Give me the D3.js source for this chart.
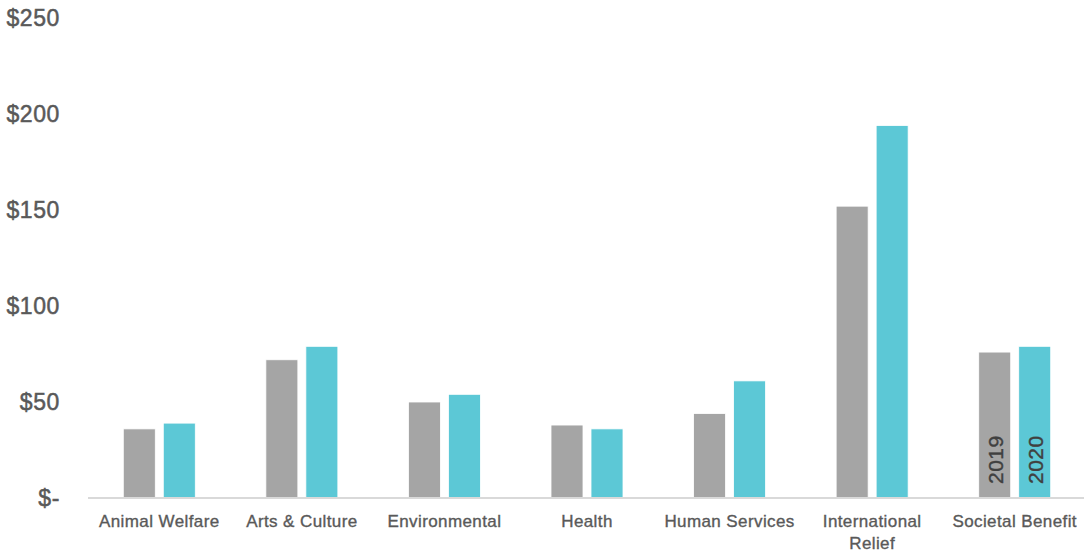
<!DOCTYPE html>
<html>
<head>
<meta charset="utf-8">
<script src="https://cdn.jsdelivr.net/npm/d3@7"></script>
<style>
  html, body { margin: 0; padding: 0; background: #fff; }
  svg { display: block; }
  text { font-family: "Liberation Sans", Arial, sans-serif; }
</style>
</head>
<body>
<svg id="chart" width="1084" height="553"></svg>
<script>
// Giving by cause, in dollars
const categories = ["Animal Welfare", "Arts & Culture", "Environmental", "Health",
                    "Human Services", "International Relief", "Societal Benefit"];
const years = ["2019", "2020"];
const values2019 = [36, 72, 50, 38, 44, 152, 76];
const values2020 = [39, 79, 54, 36, 61, 194, 79];
const yTicks = [0, 50, 100, 150, 200, 250];

const seriesValues = { "2019": values2019, "2020": values2020 };
const colors = { "2019": "#a5a5a5", "2020": "#5cc8d6" };

const svg = d3.select("#chart");
const W = 1084, H = 553;
const margin = { left: 88, right: -2, top: 18, bottom: 55 };

const x0 = d3.scaleBand().domain(categories).range([margin.left, W - margin.right]).padding(0);
const groupWidth = 72;
const x1 = d3.scaleBand().domain(years).range([0, groupWidth]).paddingInner(0.2).paddingOuter(0);
const y = d3.scaleLinear().domain([0, 250]).range([H - margin.bottom, margin.top]);

// Bars
const groups = svg.append("g").selectAll("g")
  .data(categories)
  .join("g")
  .attr("transform", c => `translate(${x0(c) + (x0.bandwidth() - groupWidth) / 2},0)`);

groups.selectAll("rect")
  .data((c, i) => years.map(yr => ({ yr, v: seriesValues[yr][i], cat: c })))
  .join("rect")
  .attr("x", d => x1(d.yr))
  .attr("width", x1.bandwidth())
  .attr("y", d => y(d.v))
  .attr("height", d => y(0) - y(d.v))
  .attr("fill", d => colors[d.yr])
  .attr("stroke", "#ffffff")
  .attr("stroke-width", 0.8);

// Series labels written inside the last category's bars
const last = categories[categories.length - 1];
svg.append("g")
  .attr("transform", `translate(${x0(last) + (x0.bandwidth() - groupWidth) / 2},0)`)
  .selectAll("text")
  .data(years)
  .join("text")
  .attr("transform", yr => `translate(${x1(yr) + x1.bandwidth() / 2 + 8},${y(0) - 14}) rotate(-90)`)
  .attr("text-anchor", "start")
  .attr("font-size", 21)
  .attr("letter-spacing", 0.5)
  .attr("fill", "#404040")
  .attr("stroke", "#404040")
  .attr("stroke-width", 0.4)
  .text(yr => yr);

// Y axis labels
const yAxis = d3.axisLeft(y)
  .tickValues(yTicks)
  .tickSize(0)
  .tickPadding(0)
  .tickFormat(v => v === 0 ? "$-" : "$" + v);

svg.append("g")
  .attr("transform", `translate(60,0)`)
  .call(yAxis)
  .call(g => g.select(".domain").remove())
  .call(g => g.selectAll("text")
    .attr("font-size", 23)
    .attr("letter-spacing", 0.6)
    .attr("font-family", "'Liberation Sans', Arial, sans-serif")
    .attr("fill", "#595959")
    .attr("stroke", "#595959")
    .attr("stroke-width", 0.5));

// X axis baseline and category labels
const xAxis = d3.axisBottom(x0).tickSize(0).tickPadding(17);
const gx = svg.append("g")
  .attr("transform", `translate(0,${y(0)})`)
  .call(xAxis);

gx.select(".domain")
  .attr("d", `M${margin.left},0H${W}`)
  .attr("stroke", "#d9d9d9")
  .attr("stroke-width", 2);

gx.selectAll(".tick text")
  .attr("font-size", 17)
  .attr("letter-spacing", 0.4)
  .attr("font-family", "'Liberation Sans', Arial, sans-serif")
  .attr("fill", "#595959")
  .attr("stroke", "#595959")
  .attr("stroke-width", 0.35)
  .each(function (d) {
    const t = d3.select(this);
    const words = d.split(" ");
    if (words.length > 1 && this.getComputedTextLength() > 135) {
      t.text(null);
      words.forEach((w, i) => {
        t.append("tspan").attr("x", 0).attr("dy", i === 0 ? "0.71em" : "1.3em").text(w);
      });
      t.attr("dy", null);
    }
  });
</script>
</body>
</html>
